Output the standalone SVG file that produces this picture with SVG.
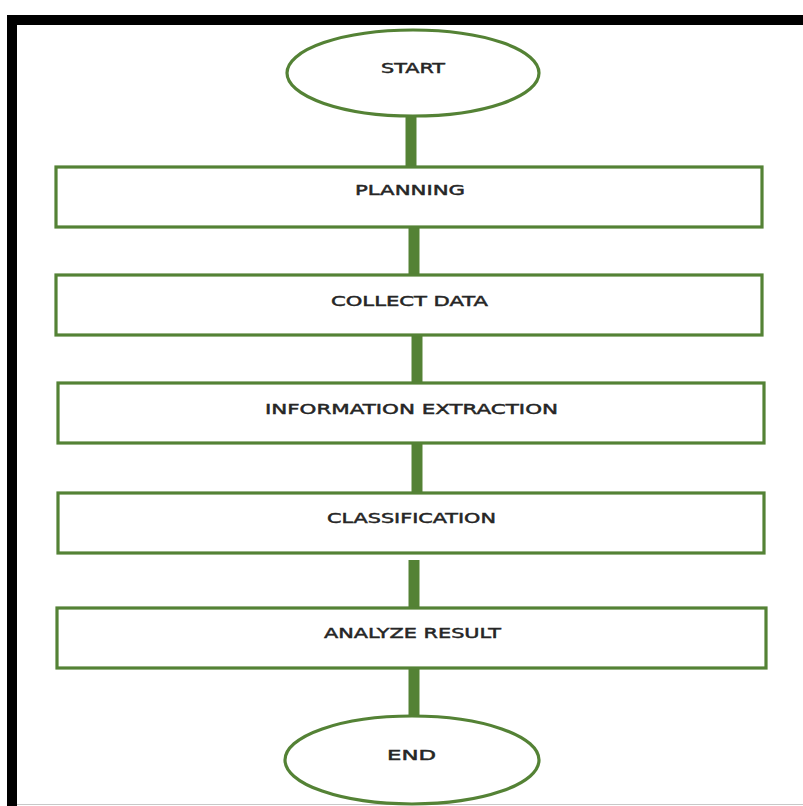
<svg xmlns="http://www.w3.org/2000/svg" width="803" height="806" viewBox="0 0 803 806">
<style>
.box{fill:#ffffff;stroke:#548235;stroke-width:3.2}
.lbl{font-family:"DejaVu Sans","Liberation Sans",sans-serif;font-size:13.5px;fill:#262626;stroke:#262626;stroke-width:0.45;text-anchor:start}
.conn{stroke:#548235;stroke-width:11;fill:none}
</style>
<rect x="0" y="0" width="803" height="806" fill="#ffffff"/>
<g id="frame">
<rect x="7" y="15" width="796" height="10" fill="#000000"/>
<rect x="7" y="15" width="10" height="791" fill="#000000"/>
<line x1="17" y1="804.5" x2="803" y2="804.5" stroke="#c8c8c8" stroke-width="1"/>
</g>
<g id="connectors">
<line class="conn" x1="411" y1="116" x2="411" y2="167"/>
<line class="conn" x1="414" y1="227" x2="414" y2="275"/>
<line class="conn" x1="417" y1="335" x2="417" y2="383"/>
<line class="conn" x1="417" y1="443" x2="417" y2="493"/>
<line class="conn" x1="414" y1="560" x2="414" y2="608"/>
<line class="conn" x1="414" y1="668" x2="414" y2="716"/>
</g>
<g id="start">
<ellipse class="box" cx="413" cy="73" rx="126" ry="43"/>
<text class="lbl" x="381" y="73" textLength="64" lengthAdjust="spacingAndGlyphs">START</text>
</g>
<g id="planning">
<rect class="box" x="56" y="167" width="706" height="60"/>
<text class="lbl" x="355" y="195" textLength="110" lengthAdjust="spacingAndGlyphs">PLANNING</text>
</g>
<g id="collect">
<rect class="box" x="56" y="275" width="706" height="60"/>
<text class="lbl" x="331" y="306" textLength="157" lengthAdjust="spacingAndGlyphs">COLLECT DATA</text>
</g>
<g id="extraction">
<rect class="box" x="58" y="383" width="706" height="60"/>
<text class="lbl" x="265" y="414" textLength="293" lengthAdjust="spacingAndGlyphs">INFORMATION EXTRACTION</text>
</g>
<g id="classification">
<rect class="box" x="58" y="493" width="706" height="60"/>
<text class="lbl" x="327" y="523" textLength="169" lengthAdjust="spacingAndGlyphs">CLASSIFICATION</text>
</g>
<g id="analyze">
<rect class="box" x="57" y="608" width="709" height="60"/>
<text class="lbl" x="324" y="638" textLength="177" lengthAdjust="spacingAndGlyphs">ANALYZE RESULT</text>
</g>
<g id="end">
<ellipse class="box" cx="412" cy="760" rx="127" ry="44"/>
<text class="lbl" x="387" y="760" textLength="49" lengthAdjust="spacingAndGlyphs">END</text>
</g>
</svg>
